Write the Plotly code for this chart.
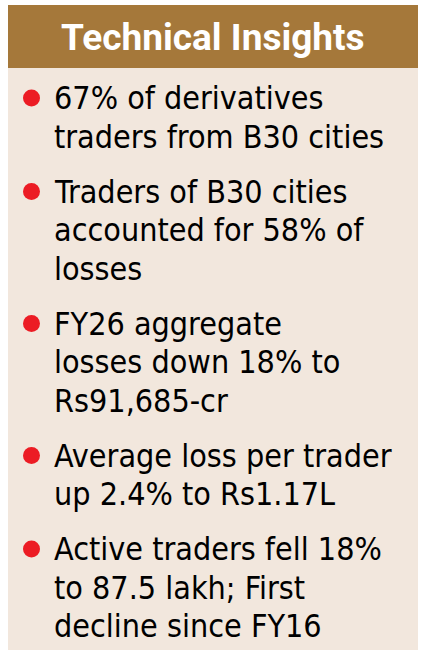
import plotly.graph_objects as go

# Panel content
title = "Technical Insights"
points = [
  ["67% of derivatives", "traders from B30 cities"],
  ["Traders of B30 cities", "accounted for 58% of", "losses"],
  ["FY26 aggregate", "losses down 18% to", "Rs91,685-cr"],
  ["Average loss per trader", "up 2.4% to Rs1.17L"],
  ["Active traders fell 18%", "to 87.5 lakh; First", "decline since FY16"],
]

# Styling
W, H = 422, 654
header_col = "#A5783A"
body_col = "#F2E7DD"
bullet_col = "#EC1C24"
body_font = "DejaVu Sans Condensed, Roboto, sans-serif"
head_font = "Roboto, DejaVu Sans Condensed, sans-serif"
line_h = 38.5
para_gap = 55
first_y = 98

fig = go.Figure()

# Box and header band
fig.add_shape(type="rect", x0=8, x1=418, y0=5, y1=650, fillcolor=body_col, line_width=0, layer="below")
fig.add_shape(type="rect", x0=8, x1=418, y0=5, y1=68, fillcolor=header_col, line_width=0, layer="below")

fig.add_annotation(x=213, y=37, text="<b>" + title + "</b>", showarrow=False,
  xanchor="center", yanchor="middle", font=dict(family=head_font, size=37, color="white"))

# Lay out the bullet lines
bullet_y = []
y = first_y
for lines in points:
  bullet_y.append(y)
  for ln in lines:
    fig.add_annotation(x=52, y=y, text=ln, showarrow=False, xanchor="left", yanchor="middle",
      font=dict(family=body_font, size=32, color="black"))
    y += line_h
  y += para_gap - line_h

fig.add_trace(go.Scatter(
  x=[31.5] * len(bullet_y), y=bullet_y,
  mode="markers",
  marker=dict(size=17, color=bullet_col, line_width=0),
  hoverinfo="skip",
  showlegend=False))

fig.update_xaxes(range=[0, W], visible=False, fixedrange=True)
fig.update_yaxes(range=[H, 0], visible=False, fixedrange=True)
fig.update_layout(
  width=W, height=H,
  margin=dict(l=0, r=0, t=0, b=0),
  paper_bgcolor="white", plot_bgcolor="white",
  showlegend=False
)

# page body has a default 8px margin; drop it so the figure fills the window
fig.write_html("out.html", config={"displayModeBar": False},
  post_script="document.body.style.margin='0';")
